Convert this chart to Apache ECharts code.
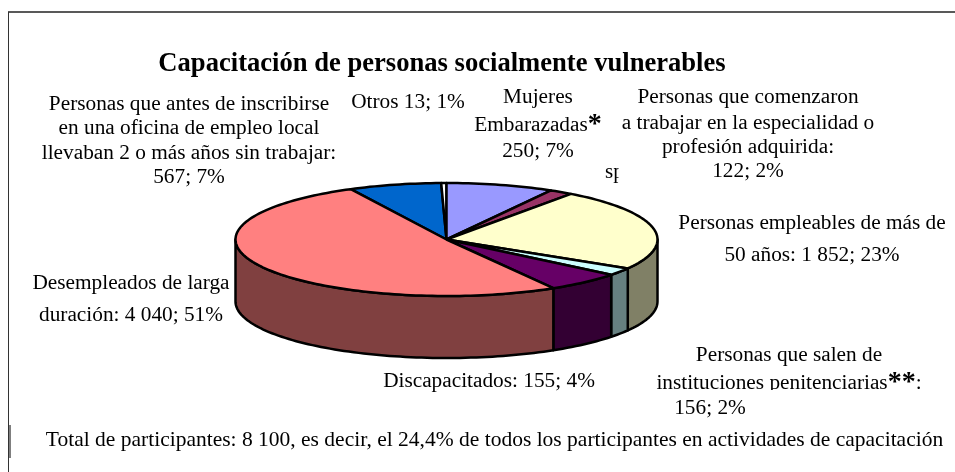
<!DOCTYPE html>
<html><head><meta charset="utf-8">
<style>html,body{margin:0;padding:0;background:#fff}#c{width:955px;height:472px}</style>
<script src="https://cdn.jsdelivr.net/npm/echarts@6/dist/echarts.min.js"></script>
</head><body><div id="c"></div>
<script>
// Slices, clockwise from the blue one
const categories = ['Personas que antes de inscribirse...', 'Otros', 'Mujeres Embarazadas', 'Personas que comenzaron...', 'Personas empleables de más de 50 años', 'Personas que salen de instituciones penitenciarias', 'Discapacitados', 'Desempleados de larga duración'];
const sharesDrawn = [7.1, 0.4, 8.25, 1.8, 23.5, 2.2, 5.8, 50.95];
const topColors = ['#0066CC', '#FFFFFF', '#9999FF', '#993366', '#FFFFCC', '#CCFFFF', '#660066', '#FF8080'];
const sideColors = ['#003366', '#808080', '#4D4D80', '#4D1A33', '#808066', '#668080', '#330033', '#804040'];
const titleText = 'Capacitación de personas socialmente vulnerables';
const labelLines = [
  ['Personas que antes de inscribirse', 'en una oficina de empleo local', 'llevaban 2 o más años sin trabajar:', '567; 7%'],
  ['Otros 13; 1%'],
  ['Mujeres', 'Embarazadas{s|*}', '250; 7%'],
  ['Personas que comenzaron', 'a trabajar en la especialidad o', 'profesión adquirida:', '122; 2%'],
  ['Personas empleables de más de', '50 años: 1 852; 23%'],
  ['Desempleados de larga', 'duración: 4 040; 51%'],
  ['Discapacitados: 155; 4%'],
  ['Personas que salen de', 'instituciones penitenciarias{s|**}:', '156; 2%'],
  ['Total de participantes: 8 100, es decir, el 24,4% de todos los participantes en actividades de capacitación']
];
const labelX = [[189,189,189,189],[408],[538,538,538],[748,748,748,748],[812,812],[131,131],[489],[789,789,710],[494.5]];
const labelY = [[104,128,153,177],[102],[97,125,151],[97,123,147,171],[223,255],[283,315],[381],[355,383,408],[440]];
const labelSize = [21.3,21.3,21.3,21.3,21.3,21.3,21.3,21.3,21.5];

const FONT = '"Liberation Serif","Times New Roman",serif';
const cx = 446.5, cy = 239.5, rx = 211, ry = 56.5, depth = 62, startDeg = -27;
const total = sharesDrawn.reduce((a, b) => a + b, 0);
const pt = (deg, dy) => { const t = deg * Math.PI / 180; return [cx + rx * Math.sin(t), cy - ry * Math.cos(t) + (dy || 0)]; };
function range(i) {
  let a = startDeg;
  for (let k = 0; k < i; k++) a += sharesDrawn[k] / total * 360;
  return [a, a + sharesDrawn[i] / total * 360];
}
function arc(a, b, dy) {
  const n = Math.max(2, Math.ceil((b - a) / 1.5)), out = [];
  for (let k = 0; k <= n; k++) out.push(pt(a + (b - a) * k / n, dy));
  return out;
}
const rows = sharesDrawn.map((v, i) => ({ name: categories[i], value: [v, i] }));
function renderTop(p, api) {
  const i = api.value(1), [a, b] = range(i);
  return { type: 'polygon', shape: { points: [[cx, cy]].concat(arc(a, b)) },
    style: { fill: topColors[i], stroke: '#000', lineWidth: 2.5, lineJoin: 'round' } };
}
function renderSide(p, api) {
  const i = api.value(1), [a, b] = range(i);
  const s = Math.max(a, 90), e = Math.min(b, 270);
  if (e <= s) return null;
  return { type: 'polygon', shape: { points: arc(s, e).concat(arc(s, e, depth).reverse()) },
    style: { fill: sideColors[i], stroke: '#000', lineWidth: 2.5, lineJoin: 'round' } };
}
const graphics = [
  { type: 'line', shape: { x1: 8, y1: 12, x2: 955, y2: 12 }, style: { stroke: '#222', lineWidth: 1.5 } },
  { type: 'line', shape: { x1: 8.5, y1: 12, x2: 8.5, y2: 472 }, style: { stroke: '#333', lineWidth: 1 } },
  { type: 'line', shape: { x1: 10, y1: 425, x2: 10, y2: 458 }, style: { stroke: '#000', lineWidth: 1 } }
];
labelLines.forEach((lines, g) => lines.forEach((txt, l) => graphics.push({
  type: 'text', x: labelX[g][l], y: labelY[g][l], z: 5,
  style: { text: txt, font: labelSize[g] + 'px ' + FONT, fill: '#000', align: 'center', verticalAlign: 'middle',
    rich: { s: { font: 'bold 28px ' + FONT, fill: '#000', lineHeight: 21 } } }
})));
graphics.push({ type: 'text', x: 605, y: 172, z: 5, style: { text: 'sp', font: '21px ' + FONT, fill: '#000', align: 'left', verticalAlign: 'middle' } });
graphics.push({ type: 'rect', z: 6, shape: { x: 618.5, y: 160, width: 8, height: 24 }, style: { fill: '#fff' } });
graphics.push({ type: 'rect', z: 6, shape: { x: 650, y: 390, width: 280, height: 6 }, style: { fill: '#fff' } });

const chart = echarts.init(document.getElementById('c'), null, { renderer: 'canvas' });
chart.setOption({
  animation: false, backgroundColor: '#fff',
  title: { text: titleText, left: 437, top: 46, textAlign: 'center',
    textStyle: { fontFamily: FONT, fontSize: 26.6, fontWeight: 'bold', color: '#000' } },
  graphic: graphics,
  series: [
    { type: 'custom', coordinateSystem: 'none', silent: true, z: 1, renderItem: renderSide, data: rows },
    { type: 'custom', coordinateSystem: 'none', silent: true, z: 2, renderItem: renderTop, data: rows }
  ]
});
</script></body></html>
